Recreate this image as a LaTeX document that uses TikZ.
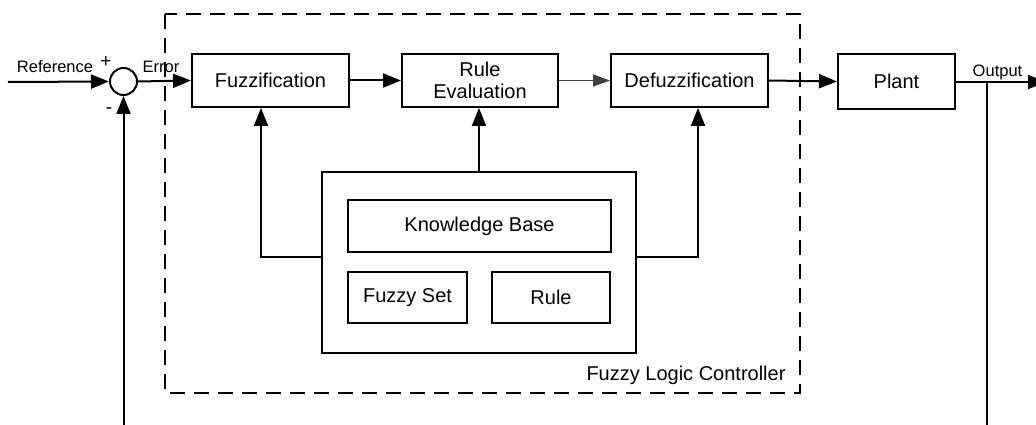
\documentclass[tikz,border=0pt]{standalone}
\usepackage{fontspec}
\setmainfont{Liberation Sans}
\usetikzlibrary{arrows.meta}
\begin{document}
\begin{tikzpicture}[x=1pt,y=-1pt,
  blk/.style={draw,line width=2pt,rectangle,inner sep=0pt,align=center,font=\fontsize{20}{22.5}\selectfont},
  lbl/.style={inner sep=0pt,font=\fontsize{16.5}{18}\selectfont},
  arr/.style={line width=2pt,-{Triangle[length=18pt,width=14pt]}},
  thinarr/.style={line width=1pt,draw=black!75,-{Triangle[length=17pt,width=12pt]}},
  ln/.style={line width=2pt},
  dashbox/.style={draw,line width=2pt,dash pattern=on 15pt off 9pt}
]
\useasboundingbox (0,0) rectangle (1036,425);
% dashed controller frame
\draw[dashbox] (165,14) rectangle (800,393);
\node[lbl,font=\fontsize{20}{22}\selectfont,anchor=base] (flc) at (686,380) {Fuzzy Logic Controller};
% summing junction
\node[draw,circle,line width=2pt,minimum size=27pt,inner sep=0pt] (sum) at (123.5,81.5) {};
% main blocks
\node[blk,minimum width=157pt,minimum height=53pt] (fuzz) at (270.5,80.5) {Fuzzification};
\node[blk,minimum width=156pt,minimum height=53pt] (reval) at (480,80.5) {Rule\\Evaluation};
\node[blk,minimum width=157pt,minimum height=53pt] (defuzz) at (689.5,80.5) {Defuzzification};
\node[blk,minimum width=117pt,minimum height=55pt] (plant) at (896.5,81.5) {Plant};
% knowledge base
\node[blk,minimum width=314pt,minimum height=181pt] (kb) at (479,262) {};
\node[blk,minimum width=263pt,minimum height=52pt] (kbase) at (479.5,226) {Knowledge Base};
\node[blk,minimum width=119pt,minimum height=51pt] (fset) at (407.5,297.5) {Fuzzy Set};
\node[blk,minimum width=118pt,minimum height=51pt] (rule) at (551,297.5) {Rule};
% labels
\node[lbl,anchor=base] (refl) at (55,73) {Reference};
\node[lbl,font=\fontsize{19}{20}\selectfont] (plus) at (106,62) {+};
\node[lbl,font=\fontsize{19}{20}\selectfont] (minus) at (109,111) {-};
\node[lbl,anchor=base] (errl) at (161,73) {Error};
\node[lbl,anchor=base] (outl) at (997.5,77) {Output};
% coordinates
\coordinate (refin) at (8,82);
\coordinate (outend) at (1046,82);
\coordinate (branch) at (987,82);
\coordinate (fbr) at (987,430);
\coordinate (fbl) at (123.5,430);
\coordinate (lk) at (261,257);
\coordinate (rk) at (698,257);
% connectors
\draw[arr] (refin) -- (sum.west);
\draw[arr] (sum.east) -- (fuzz.west);
\draw[arr] (fuzz.east) -- (reval.west);
\draw[thinarr] (reval.east) -- (defuzz.west);
\draw[arr] (defuzz.east) -- (plant.west);
\draw[arr] (plant.east |- outend) -- (outend);
\draw[ln] (branch) -- (fbr);
\draw[arr] (fbl) -- (sum.south);
\draw[arr] (kb.west |- lk) -| (fuzz.south -| lk);
\draw[arr] (kb.north) -- (kb.north |- reval.south);
\draw[arr] (kb.east |- rk) -| (defuzz.south -| rk);
\end{tikzpicture}
\end{document}
